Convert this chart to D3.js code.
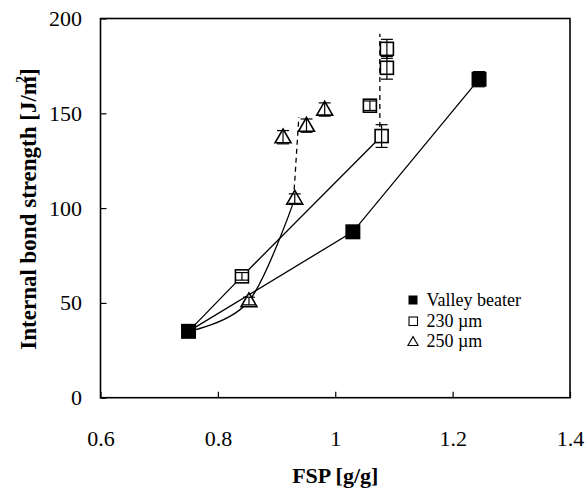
<!DOCTYPE html>
<html>
<head>
<meta charset="utf-8">
<script src="https://cdn.jsdelivr.net/npm/d3@7"></script>
<style>
body { margin: 0; background: #fff; }
svg text { font-family: "Liberation Serif", "Times New Roman", serif; fill: #000; }
</style>
</head>
<body>
<div id="chart"></div>
<script>
// common unbeaten starting point
const startX = 0.75, startY = 35;

// Valley beater
const valleyX = [0.75, 1.03, 1.245];
const valleyY = [35, 87.5, 168];
const valleyErr = [0, 0, 4];

// 230 um
const m230X = [0.841, 1.079, 1.059, 1.088, 1.088];
const m230Y = [64, 138, 154, 174, 184];
const m230Err = [2, 6, 2.5, 6, 5];
const m230LineN = 2; // first points joined by solid line
const dash230X = [1.076, 1.076];
const dash230Y = [138, 192];

// 250 um
const m250X = [0.853, 0.931, 0.911, 0.951, 0.982];
const m250Y = [51, 105, 137.4, 143.5, 152];
const m250Err = [2, 2.5, 3.5, 3.5, 3.5];
const m250LineN = 2;
const dash250X = [0.929, 0.938];
const dash250Y = [105, 148];

const xTicks = [0.6, 0.8, 1, 1.2, 1.4];
const yTicks = [0, 50, 100, 150, 200];
const legendNames = ["Valley beater", "230 \u00b5m", "250 \u00b5m"];

let svg = d3.select('#chart')
    .append("svg")
    .attr("width", 586)
    .attr("height", 493);

let x = d3.scaleLinear().domain([0.6, 1.4]).range([100.5, 570]);
let y = d3.scaleLinear().domain([0, 200]).range([397.7, 18.5]);

// axes, ticks pointing inside
let xAxis = svg.append("g")
    .attr("transform", "translate(0,397.7)")
    .call(d3.axisBottom(x).tickValues(xTicks).tickSize(-6).tickPadding(33)
        .tickFormat(d => d3.format("~g")(d)));
let yAxis = svg.append("g")
    .attr("transform", "translate(100.5,0)")
    .call(d3.axisLeft(y).tickValues(yTicks).tickSize(-6).tickPadding(18.5));
[xAxis, yAxis].forEach(a => {
    a.select(".domain").remove();
    a.selectAll("line").attr("stroke", "#000").attr("stroke-width", 1.2);
    a.selectAll("text").attr("font-size", 22).attr("font-family", "Liberation Serif");
});

// plot frame
svg.append("rect")
    .attr("x", x(0.6)).attr("y", y(200))
    .attr("width", x(1.4) - x(0.6)).attr("height", y(0) - y(200))
    .attr("fill", "none").attr("stroke", "#000").attr("stroke-width", 1.6);

// axis titles
svg.append("text")
    .attr("x", (x(0.6) + x(1.4)) / 2).attr("y", 483)
    .attr("text-anchor", "middle").attr("font-size", 22).attr("font-weight", "bold")
    .text("FSP [g/g]");
let yt = svg.append("text")
    .attr("transform", "translate(36,209) rotate(-90)")
    .attr("text-anchor", "middle").attr("font-size", 23).attr("font-weight", "bold");
yt.append("tspan").text("Internal bond strength [J/m");
yt.append("tspan").attr("font-size", 14).attr("dx", -7).attr("dy", -10).text("2");
yt.append("tspan").attr("dy", 10).text("]");

// lines
let line = d3.line().x(d => x(d[0])).y(d => y(d[1]));
let smooth = d3.line().x(d => x(d[0])).y(d => y(d[1])).curve(d3.curveCardinal.tension(0));
let g = svg.append("g").attr("fill", "none").attr("stroke", "#000").attr("stroke-width", 1.3);

g.append("path").attr("d", line(valleyX.map((v, i) => [v, valleyY[i]])));
g.append("path").attr("d", line([[startX, startY]].concat(
    m230X.slice(0, m230LineN).map((v, i) => [v, m230Y[i]]))));
g.append("path").attr("d", smooth([[startX, startY]].concat(
    m250X.slice(0, m250LineN).map((v, i) => [v, m250Y[i]]))));
g.append("path").attr("stroke-dasharray", "5,4")
    .attr("d", line(dash230X.map((v, i) => [v, dash230Y[i]])));
g.append("path").attr("stroke-dasharray", "5,4")
    .attr("d", line(dash250X.map((v, i) => [v, dash250Y[i]])));

// markers
function errBars(xs, ys, es) {
    let eb = svg.append("g").attr("stroke", "#000").attr("stroke-width", 1.2);
    xs.forEach((v, i) => {
        if (!es[i]) return;
        let cx = x(v), y1 = y(ys[i] - es[i]), y2 = y(ys[i] + es[i]);
        eb.append("line").attr("x1", cx).attr("x2", cx).attr("y1", y1).attr("y2", y2);
        eb.append("line").attr("x1", cx - 6).attr("x2", cx + 6).attr("y1", y1).attr("y2", y1);
        eb.append("line").attr("x1", cx - 6).attr("x2", cx + 6).attr("y1", y2).attr("y2", y2);
    });
}

svg.append("g").selectAll("rect")
    .data(valleyX.map((v, i) => [v, valleyY[i]]))
    .enter().append("rect")
    .attr("x", d => x(d[0]) - 7.5).attr("y", d => y(d[1]) - 7.5)
    .attr("width", 15).attr("height", 15).attr("fill", "#000");
errBars(valleyX, valleyY, valleyErr);

svg.append("g").selectAll("rect")
    .data(m230X.map((v, i) => [v, m230Y[i]]))
    .enter().append("rect")
    .attr("x", d => x(d[0]) - 6.5).attr("y", d => y(d[1]) - 6.5)
    .attr("width", 13).attr("height", 13)
    .attr("fill", "#fff").attr("stroke", "#000").attr("stroke-width", 1.6);
errBars(m230X, m230Y, m230Err);

let tri = d3.symbol().type(d3.symbolTriangle).size(110);
svg.append("g").selectAll("path")
    .data(m250X.map((v, i) => [v, m250Y[i]]))
    .enter().append("path")
    .attr("transform", d => "translate(" + x(d[0]) + "," + (y(d[1]) + 1) + ")")
    .attr("d", tri)
    .attr("fill", "#fff").attr("stroke", "#000").attr("stroke-width", 1.6);
errBars(m250X, m250Y, m250Err);

// legend
let lg = svg.append("g").attr("transform", "translate(413,300)");
lg.append("rect").attr("x", -4.5).attr("y", -4.5).attr("width", 9).attr("height", 9).attr("fill", "#000");
lg.append("rect").attr("x", -4).attr("y", 17).attr("width", 8.5).attr("height", 8.5)
    .attr("fill", "#fff").attr("stroke", "#000").attr("stroke-width", 1.1);
lg.append("path").attr("transform", "translate(0,42.5)").attr("d", d3.symbol().type(d3.symbolTriangle).size(45))
    .attr("fill", "#fff").attr("stroke", "#000").attr("stroke-width", 1.1);
lg.selectAll("text")
    .data(legendNames)
    .enter().append("text")
    .attr("x", 13.5).attr("y", (d, i) => 6 + i * 20.7)
    .attr("font-size", 18)
    .text(d => d);
</script>
</body>
</html>
